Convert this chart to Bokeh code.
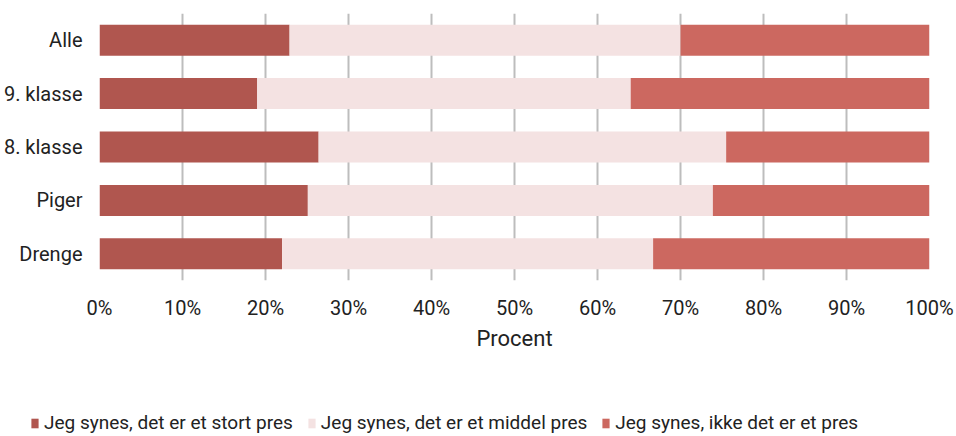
from bokeh.plotting import figure
from bokeh.layouts import column
from bokeh.models import ColumnDataSource, FixedTicker, Legend, LegendItem, FactorRange, Range1d
from bokeh.embed import file_html
from bokeh.resources import INLINE

categories = ["Drenge", "Piger", "8. klasse", "9. klasse", "Alle"]
stort = [22.0, 25.1, 26.4, 19.0, 22.9]
middel = [44.7, 48.8, 49.1, 45.0, 47.1]
ikke = [33.3, 26.1, 24.5, 36.0, 30.0]
series_names = ["Jeg synes, det er et stort pres", "Jeg synes, det er et middel pres", "Jeg synes, ikke det er et pres"]
tick_values = [0, 10, 20, 30, 40, 50, 60, 70, 80, 90, 100]
tick_labels = ["0%", "10%", "20%", "30%", "40%", "50%", "60%", "70%", "80%", "90%", "100%"]
colors = ["#b0564f", "#f4e2e2", "#cc6860"]

FONT = "Roboto"

src = ColumnDataSource(dict(cat=categories, stort=stort, middel=middel, ikke=ikke))

p = figure(width=954, height=395, y_range=FactorRange(*categories, range_padding=0),
           x_range=Range1d(0, 100), output_backend="svg", toolbar_location=None,
           min_border_left=99, min_border_right=25, min_border_top=13, min_border_bottom=115)
p.outline_line_color = None

renderers = p.hbar_stack(["stort", "middel", "ikke"], y="cat", height=0.58, color=colors,
                         source=src, line_color=None)

p.xaxis.ticker = FixedTicker(ticks=tick_values)
p.xaxis.major_label_overrides = {v: l for v, l in zip(tick_values, tick_labels)}
p.xaxis.axis_line_color = None
p.xaxis.major_tick_line_color = None
p.xaxis.minor_tick_line_color = None
p.xaxis.major_label_standoff = 9
p.xaxis.major_label_text_font = FONT
p.xaxis.major_label_text_font_size = "20px"
p.xaxis.major_label_text_color = "#222222"
p.xaxis.axis_label = "Procent"
p.xaxis.axis_label_text_font = FONT
p.xaxis.axis_label_text_font_size = "22px"
p.xaxis.axis_label_text_font_style = "normal"
p.xaxis.axis_label_text_color = "#222222"
p.xaxis.axis_label_standoff = 3

p.yaxis.axis_line_color = None
p.yaxis.major_tick_line_color = None
p.yaxis.minor_tick_line_color = None
p.yaxis.major_label_standoff = 11
p.yaxis.major_label_text_font = FONT
p.yaxis.major_label_text_font_size = "20px"
p.yaxis.major_label_text_color = "#222222"

p.ygrid.grid_line_color = None
p.xgrid.grid_line_color = "#bdbdbd"
p.xgrid.grid_line_width = 2
p.xgrid.level = "underlay"

# legend strip below the chart
lg = figure(width=954, height=40, x_range=Range1d(0, 1), y_range=Range1d(0, 1),
            x_axis_type=None, y_axis_type=None, output_backend="svg", toolbar_location=None,
            min_border=0)
lg.frame_align = False
lg.outline_line_color = None
lg.grid.visible = False
dummy = [lg.rect(x=[-10], y=[-10], width=1, height=1, fill_color=c, line_color=None) for c in colors]
legend = Legend(items=[LegendItem(label=n, renderers=[r]) for n, r in zip(series_names, dummy)],
                orientation="horizontal", location=(30, 1),
                glyph_width=9, glyph_height=12, label_standoff=5, spacing=14,
                label_text_font=FONT, label_text_font_size="19px", label_text_color="#222222",
                background_fill_alpha=0, border_line_color=None, padding=0, margin=0)
lg.add_layout(legend, "center")

layout = column(p, lg, spacing=0)
open("out.html", "w").write(file_html(layout, INLINE))
